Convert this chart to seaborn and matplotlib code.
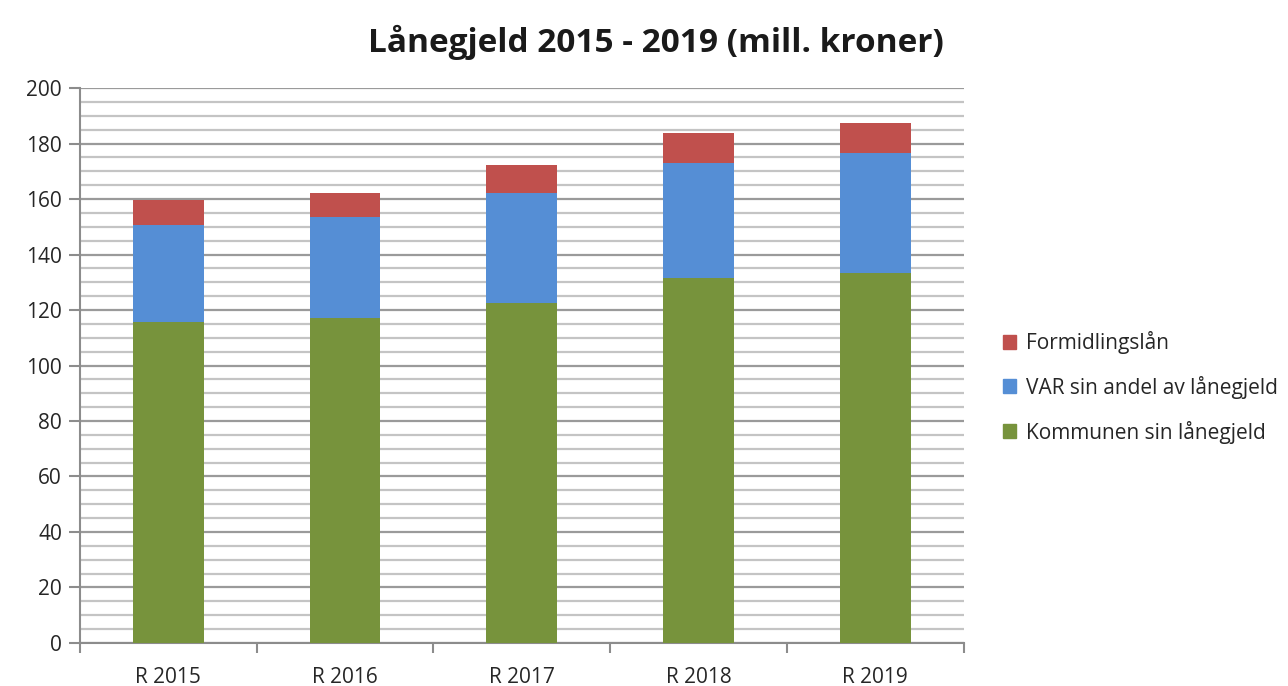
import numpy as np
import matplotlib
matplotlib.use("Agg")
import matplotlib.pyplot as plt
from matplotlib.ticker import MultipleLocator, FixedLocator
from matplotlib.patches import Patch
import seaborn as sns

years = ["R 2015", "R 2016", "R 2017", "R 2018", "R 2019"]
kommunen = [115.8, 117.2, 122.6, 131.4, 133.4]
var_andel = [34.8, 36.2, 39.7, 41.7, 43.1]
formidling = [9.0, 8.6, 10.0, 10.6, 10.8]

labels = ["Kommunen sin lånegjeld", "VAR sin andel av lånegjeld", "Formidlingslån"]
colors = ["#77933C", "#558ED5", "#C0504D"]

sns.set_style("white")
plt.rcParams['font.family'] = ['Open Sans', 'DejaVu Sans']

fig = plt.figure(figsize=(12.88, 6.86), dpi=100)
ax = fig.add_axes([0.0621, 0.0627, 0.686, 0.809])

bottom2 = np.array(kommunen)
bottom3 = bottom2 + np.array(var_andel)
bar_kw = dict(width=0.4, saturation=1, ax=ax, zorder=3, linewidth=0)
sns.barplot(x=years, y=kommunen, color=colors[0], **bar_kw)
sns.barplot(x=years, y=var_andel, bottom=bottom2, color=colors[1], **bar_kw)
sns.barplot(x=years, y=formidling, bottom=bottom3, color=colors[2], **bar_kw)

ax.set_xlim(-0.5, 4.5)
ax.set_ylim(0, 200)
ax.yaxis.set_major_locator(MultipleLocator(20))
ax.yaxis.set_minor_locator(MultipleLocator(5))
ax.grid(which='minor', axis='y', color='#c4c4c4', lw=1.6, zorder=0)
ax.grid(which='major', axis='y', color='#9a9a9a', lw=1.6, zorder=0)
ax.xaxis.set_minor_locator(FixedLocator(np.arange(-0.5, 5.0, 1.0)))
ax.tick_params(axis='x', which='major', length=0, labelsize=15, colors='#262626', pad=17)
ax.tick_params(axis='x', which='minor', length=7, width=1.5, color='#8c8c8c', direction='out', bottom=True)
ax.tick_params(axis='y', which='major', length=8, width=1.5, color='#8c8c8c', labelsize=15, labelcolor='#262626', left=True, pad=5)
ax.tick_params(axis='y', which='minor', length=0)

for s in ['top', 'right']:
    ax.spines[s].set_visible(False)
for s in ['left', 'bottom']:
    ax.spines[s].set_color('#8c8c8c')
    ax.spines[s].set_linewidth(1.5)
ax.set_xlabel('')
ax.set_ylabel('')

fig.text(0.509, 0.938, 'Lånegjeld 2015 - 2019 (mill. kroner)', ha='center', va='center',
         fontsize=24, fontweight='bold', color='#1a1a1a')

handles = [Patch(color=colors[i]) for i in [2, 1, 0]]
fig.legend(handles, [labels[i] for i in [2, 1, 0]], loc='upper left', bbox_to_anchor=(0.764, 0.545),
           frameon=False, fontsize=15, handlelength=0.65, handleheight=0.65, handletextpad=0.45,
           labelspacing=1.05, labelcolor='#262626')

fig.savefig('out.png', dpi=100)
